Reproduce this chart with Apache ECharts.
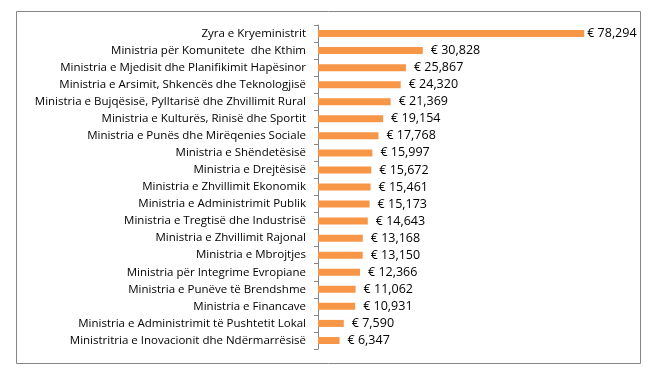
<!DOCTYPE html>
<html><head><meta charset="utf-8">
<script src="https://cdn.jsdelivr.net/npm/echarts@6/dist/echarts.min.js"></script>
<style>html,body{margin:0;padding:0;background:#fff}#c{width:653px;height:377px}</style>
</head><body><div id="c"></div>
<script>
const categories = [
  "Zyra e Kryeministrit",
  "Ministria për Komunitete  dhe Kthim",
  "Ministria e Mjedisit dhe Planifikimit Hapësinor",
  "Ministria e Arsimit, Shkencës dhe Teknologjisë",
  "Ministria e Bujqësisë, Pylltarisë dhe Zhvillimit Rural",
  "Ministria e Kulturës, Rinisë dhe Sportit",
  "Ministria e Punës dhe Mirëqenies Sociale",
  "Ministria e Shëndetësisë",
  "Ministria e Drejtësisë",
  "Ministria e Zhvillimit Ekonomik",
  "Ministria e Administrimit Publik",
  "Ministria e Tregtisë dhe Industrisë",
  "Ministria e Zhvillimit Rajonal",
  "Ministria e Mbrojtjes",
  "Ministria për Integrime Evropiane",
  "Ministria e Punëve të Brendshme",
  "Ministria e Financave",
  "Ministria e Administrimit të Pushtetit Lokal",
  "Ministritria e Inovacionit dhe Ndërmarrësisë"
];
const values = [78294, 30828, 25867, 24320, 21369, 19154, 17768, 15997, 15672, 15461, 15173, 14643, 13168, 13150, 12366, 11062, 10931, 7590, 6347];

const chart = echarts.init(document.getElementById('c'), null, {renderer: 'canvas'});
const fmt = v => '€ ' + v.toLocaleString('en-US');
chart.setOption({
  animation: false,
  backgroundColor: '#fff',
  graphic: [{
    type: 'rect', shape: {x: 16.5, y: 11.5, width: 624, height: 352},
    style: {fill: 'none', stroke: '#868686', lineWidth: 1}, silent: true
  }],
  grid: {left: 318, top: 25, width: 306, height: 324, containLabel: false},
  xAxis: {
    type: 'value', min: 0, max: 90000, show: false
  },
  yAxis: {
    type: 'category', data: categories, inverse: true,
    axisLine: {lineStyle: {color: '#868686', width: 1}},
    axisTick: {show: true, length: 4, lineStyle: {color: '#868686'}},
    axisLabel: {color: '#000', fontFamily: 'Open Sans', fontSize: 11.5, margin: 12}
  },
  series: [{
    type: 'bar', data: values.map((v, i) => i === 0 ? {value: v, label: {distance: 3}} : v),
    barWidth: 7,
    itemStyle: {color: '#F79646'},
    label: {show: true, position: 'right', distance: 8, color: '#000',
      fontFamily: 'Open Sans', fontSize: 12.5, formatter: p => fmt(p.value)}
  }]
});
</script></body></html>
